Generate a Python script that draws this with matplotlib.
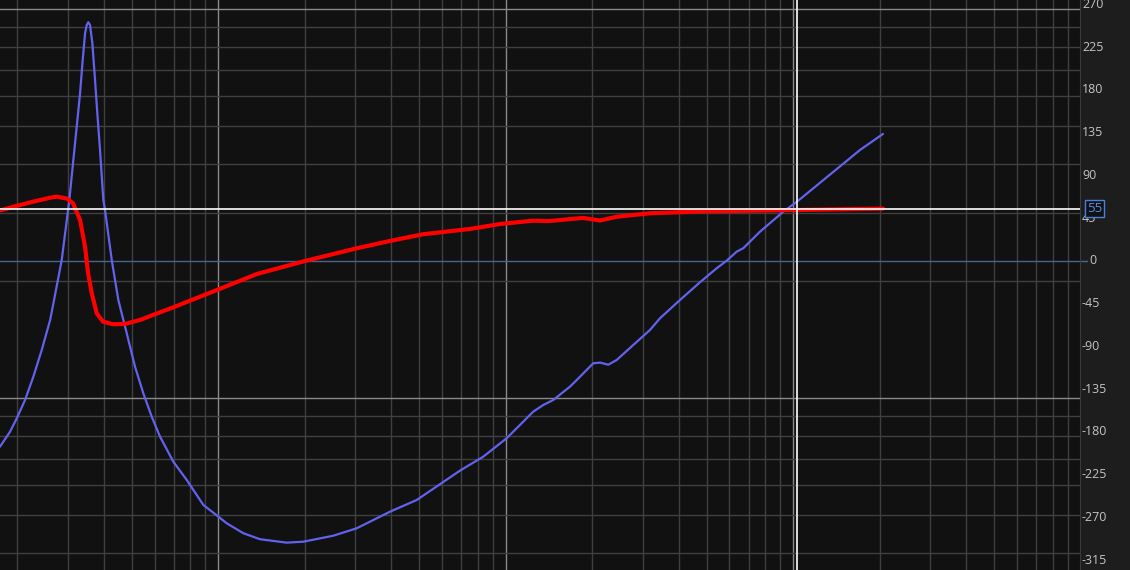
import numpy as np
import matplotlib
matplotlib.use("Agg")
import matplotlib.pyplot as plt
from matplotlib.ticker import LogLocator, NullFormatter

plt.rcParams['font.family'] = ['Open Sans', 'DejaVu Sans']

# ---- data ----
red_freq = [17.4, 20.43, 22.67, 26.0, 27.48, 29.77, 31.23, 33.04, 34.39, 35.23, 36.29, 37.76,
            39.72, 43.03, 47.37, 53.42, 59.29, 69.57, 79.7, 99.0, 136.3, 200.3, 303.7, 395.6,
            515.2, 750.9, 954.6, 1243, 1424, 1856, 2127, 2437, 3174, 4737, 10550, 20510]
red_deg = [53.2, 58.9, 62.4, 66.6, 67.7, 65.6, 60.7, 43.2, 15.1, -12.9, -34.0, -55.1,
           -63.9, -66.6, -66.3, -62.1, -56.8, -48.9, -41.8, -30.5, -13.7, 0.0, 13.4, 21.1,
           28.1, 33.7, 38.9, 42.4, 42.1, 45.3, 42.6, 46.6, 50.2, 52.1, 53.7, 55.1]

blue_freq = [17.4, 18.86, 19.9, 21.27, 22.73, 24.31, 26.0, 26.83, 28.53, 30.32, 31.31, 32.17,
             33.04, 33.75, 34.39, 34.86, 35.31, 35.79, 36.46, 37.25, 37.94, 38.77, 39.81, 40.35,
             42.58, 44.89, 48.02, 51.32, 54.84, 58.66, 62.69, 69.74, 77.64, 88.67, 100, 106.9,
             122.2, 139.6, 172.9, 197.6, 251.2, 302.9, 395.6, 489.9, 590.3, 692.9, 835.0, 1007,
             1246, 1350, 1463, 1672, 1765, 2015, 2127, 2273, 2431, 2777, 3174, 3439, 4035, 4737,
             5414, 5866, 6355, 6700, 7660, 9231, 10300, 17060, 20510]
blue_deg = [-195.5, -179.7, -165.6, -146.3, -121.8, -93.7, -62.1, -41.1, 1.1, 64.2, 106.3, 141.4,
            176.5, 211.6, 239.7, 248.4, 251.3, 248.4, 229.2, 190.5, 155.5, 116.8, 64.2, 53.7,
            1.1, -41.1, -76.1, -111.3, -139.3, -163.9, -184.9, -211.3, -230.5, -256.8, -269.1, -276.1,
            -286.6, -292.9, -296.5, -295.5, -289.2, -281.4, -263.9, -251.6, -235.0, -220.7, -206.0, -186.6,
            -158.6, -151.6, -146.3, -132.3, -125.3, -107.7, -107.0, -109.2, -104.2, -88.4, -72.6, -60.3,
            -41.1, -22.4, -7.7, 0.3, 9.8, 13.4, 30.8, 51.9, 62.4, 116.8, 133.7]

y_ticks = [270, 225, 180, 135, 90, 45, 0, -45, -90, -135, -180, -225, -270, -315]
cursor_value = 55
cursor_freq = 10300

# ---- figure ----
fig = plt.figure(figsize=(11.3, 5.7), dpi=100, facecolor='#1d1d1d')
axg = fig.add_axes([0, 0, 1080 / 1130, 1])
axg.set_facecolor('#111111')
axg.set_xscale('log')
axg.set_yscale('log')
axg.set_xlim(17.4, 99400)
axg.set_ylim(0.3619, 10.566)
for axis in (axg.xaxis, axg.yaxis):
    axis.set_major_locator(LogLocator(base=10, numticks=100))
    axis.set_minor_locator(LogLocator(base=10, subs=np.arange(2, 10), numticks=100))
    axis.set_major_formatter(NullFormatter())
    axis.set_minor_formatter(NullFormatter())
axg.grid(True, which='major', color='#8a8a8a', linewidth=1.0)
axg.grid(True, which='minor', color='#3f3f3f', linewidth=1.0)
axg.tick_params(which='both', length=0, labelleft=False, labelbottom=False)
for s in axg.spines.values():
    s.set_visible(False)

ax = axg.twinx()
ax.set_ylim(-325.3, 274.7)
ax.set_yticks([])
ax.tick_params(which='both', length=0)
for k, s in ax.spines.items():
    s.set_visible(k == 'right')
ax.spines['right'].set_color('#3a3a3a')

ytr = ax.get_yaxis_transform()
# zero line
ax.plot([0, 1 + 7 / 1080], [0, 0], transform=ytr, color='#4d6290', linewidth=1.0,
        clip_on=False, zorder=2)

ax.plot(blue_freq, blue_deg, color='#6262ee', linewidth=1.6, zorder=3,
        solid_capstyle='round', solid_joinstyle='round')
ax.plot(red_freq, red_deg, color='#ff0000', linewidth=3.0, zorder=4,
        solid_capstyle='round', solid_joinstyle='round')

# cursor lines
ax.axhline(cursor_value, color='white', linewidth=1.2, zorder=5)
ax.axvline(cursor_freq, color='white', linewidth=1.2, zorder=5)

# tick labels
for v in y_ticks:
    off = 9 / 1080 if v == 0 else 2 / 1080
    ax.text(1 + off, v, str(v), transform=ytr, ha='left', va='center',
            color='#c4c4c4', fontsize=9, clip_on=False)

ax.text(1 + 7 / 1080, cursor_value, str(cursor_value), transform=ytr, ha='left', va='center',
        color='#5b8de6', fontsize=9.5, clip_on=False, zorder=6,
        bbox=dict(boxstyle='square,pad=0.15', facecolor='#111111', edgecolor='#4a7fe0',
                  linewidth=1.0))

fig.savefig('out.png', dpi=100, facecolor=fig.get_facecolor())
